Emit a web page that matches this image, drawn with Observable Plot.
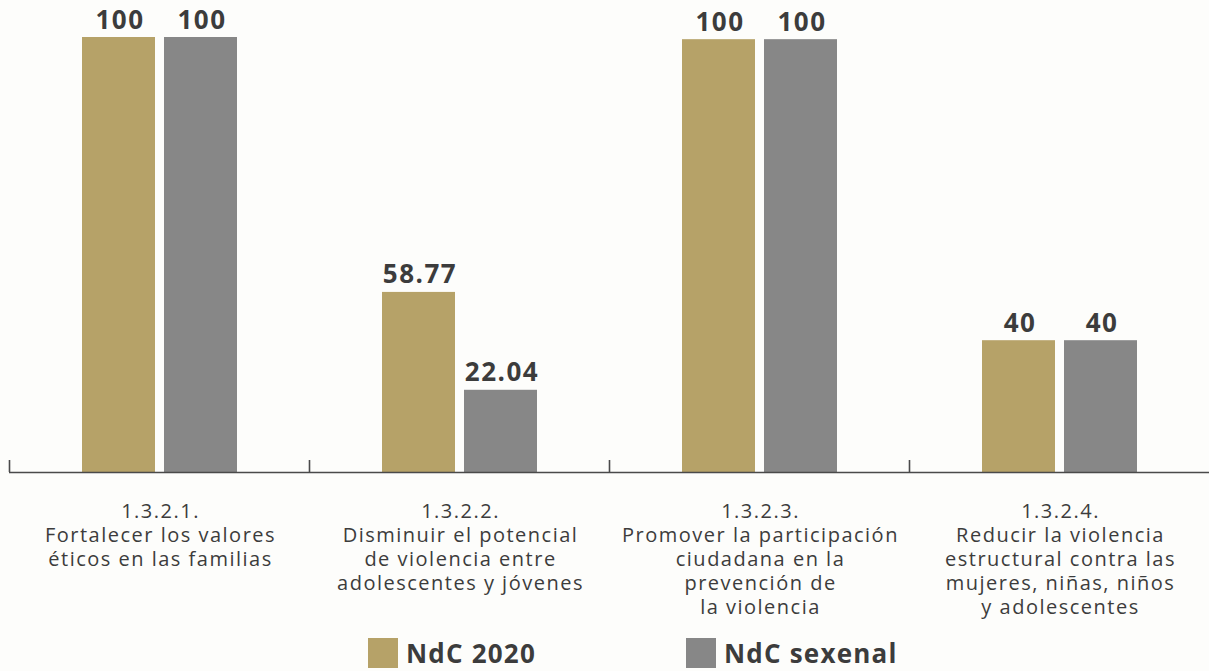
<!DOCTYPE html>
<html>
<head>
<meta charset="utf-8">
<script src="https://cdn.jsdelivr.net/npm/d3@7"></script>
<script src="https://cdn.jsdelivr.net/npm/@observablehq/plot@0.6"></script>
<style>
  html, body { margin: 0; padding: 0; background: #fdfdfb; }
  body { width: 1209px; height: 671px; overflow: hidden; font-family: "Open Sans", sans-serif; }
  #legend { display: flex; padding-left: 368px; margin-top: 8px; height: 30px; }
  #legend .item { display: flex; align-items: center; width: 318px; font-weight: 700; font-size: 26px; line-height: 1; letter-spacing: 1.2px; color: #3c3c3c; }
  #legend .sw { display: inline-block; flex: none; width: 30px; height: 30px; margin-right: 8px; }
  /* letter spacing for the chart texts (Plot marks have no letterSpacing option) */
  svg g[font-size="26"] { letter-spacing: 1.5px; }
  svg g[font-size="20"] { letter-spacing: 1.5px; }
</style>
</head>
<body>
<div id="chart"></div>
<div id="legend"></div>
<script>
// ---- data ----
const categories = ["1.3.2.1.", "1.3.2.2.", "1.3.2.3.", "1.3.2.4."];
const categoryLabels = [
  "1.3.2.1.\nFortalecer los valores\néticos en las familias",
  "1.3.2.2.\nDisminuir el potencial\nde violencia entre\nadolescentes y jóvenes",
  "1.3.2.3.\nPromover la participación\nciudadana en la\nprevención de\nla violencia",
  "1.3.2.4.\nReducir la violencia\nestructural contra las\nmujeres, niñas, niños\ny adolescentes"
];
const series = ["NdC 2020", "NdC sexenal"];
const colors = ["#b6a268", "#878787"];
// values printed above the bars
const values2020 = [100, 58.77, 100, 40];
const valuesSexenal = [100, 22.04, 100, 40];
// bar lengths as drawn in the reference (the original bars are not drawn to scale)
const barLen2020 = [100, 41.4, 99.5, 30.3];
const barLenSexenal = [100, 18.9, 99.5, 30.3];

// ---- table ----
const data = [];
categories.forEach((c, i) => {
  data.push({cat: c, series: series[0], len: barLen2020[i], label: String(values2020[i])});
  data.push({cat: c, series: series[1], len: barLenSexenal[i], label: String(valuesSexenal[i])});
});
const catData = categories.map((c, i) => ({cat: c, text: categoryLabels[i]}));

const textColor = "#3c3c3c";
const axisColor = "#4a4a4a";

const chart = Plot.plot({
  width: 1209,
  height: 630,
  marginLeft: 9,
  marginRight: 0,
  marginTop: 37,
  marginBottom: 158,
  style: {background: "transparent", fontFamily: "'Open Sans', sans-serif", color: textColor},
  fx: {domain: categories, padding: 0},
  x: {domain: series, paddingInner: 0.11, paddingOuter: 0.88, axis: null},
  y: {domain: [0, 100], axis: null},
  color: {domain: series, range: colors},
  marks: [
    Plot.barY(data, {fx: "cat", x: "series", y: "len", fill: "series"}),
    Plot.ruleY([0], {stroke: axisColor, strokeWidth: 1.6}),
    Plot.axisFx({anchor: "bottom", tickSize: 12, dy: -12, dx: -150, tickFormat: () => "", label: null, stroke: axisColor, strokeWidth: 1.6}),
    Plot.text(data, {fx: "cat", x: "series", y: "len", text: "label", lineAnchor: "bottom", dy: -9, dx: 1,
      fontSize: 26, fontWeight: "bold", fill: textColor}),
    Plot.text(catData, {fx: "cat", text: "text", frameAnchor: "bottom", lineAnchor: "top", dy: 28, dx: 1,
      fontSize: 20, lineHeight: 1.2, fill: textColor})
  ]
});
document.getElementById("chart").appendChild(chart);

// ---- legend ----
const legend = d3.select("#legend");
series.forEach((s, i) => {
  const item = legend.append("div").attr("class", "item");
  item.append("span").attr("class", "sw").style("background", colors[i]);
  item.append("span").text(s);
});
</script>
</body>
</html>
